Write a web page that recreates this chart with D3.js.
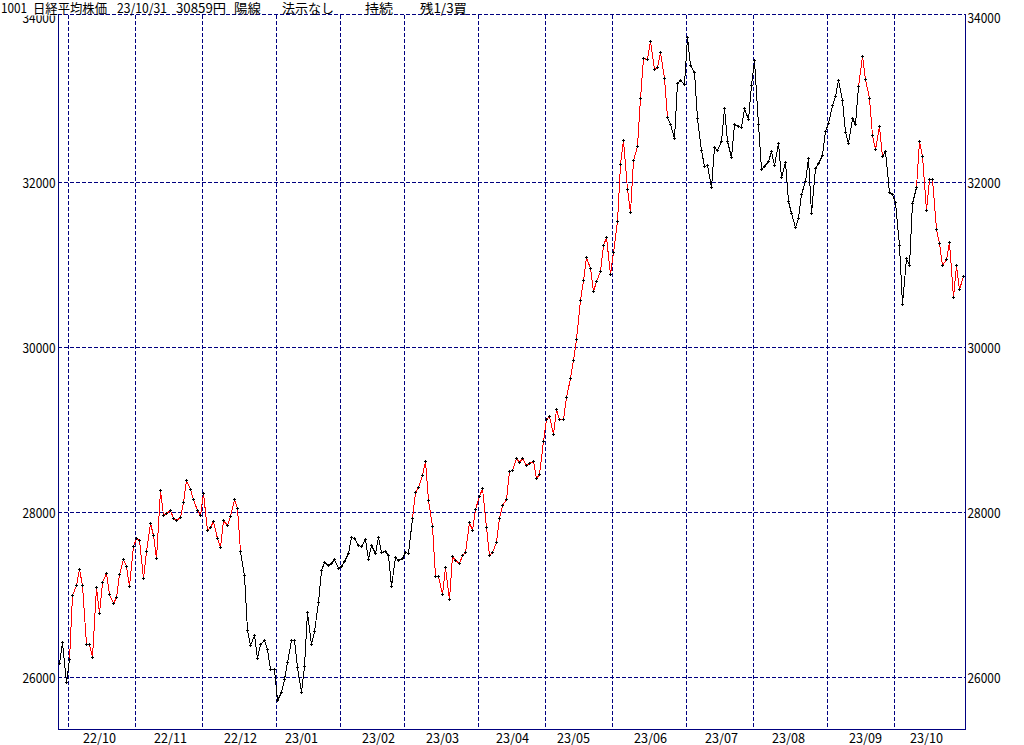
<!DOCTYPE html>
<html><head><meta charset="utf-8">
<script src="https://cdn.jsdelivr.net/npm/d3@7"></script>
<style>
html,body{margin:0;padding:0;background:#fff;}
svg{display:block;}
text{font-family:"MS Gothic","Noto Sans CJK JP",sans-serif;fill:#000;}
</style></head><body>
<svg id="c" width="1024" height="745"></svg>
<script>
// ---- data ----
const dates = [
"2022-09-28","2022-09-29","2022-09-30",
"2022-10-03","2022-10-04","2022-10-05","2022-10-06","2022-10-07","2022-10-11","2022-10-12","2022-10-13","2022-10-14","2022-10-17","2022-10-18","2022-10-19","2022-10-20","2022-10-21","2022-10-24","2022-10-25","2022-10-26","2022-10-27","2022-10-28","2022-10-31",
"2022-11-01","2022-11-02","2022-11-04","2022-11-07","2022-11-08","2022-11-09","2022-11-10","2022-11-11","2022-11-14","2022-11-15","2022-11-16","2022-11-17","2022-11-18","2022-11-21","2022-11-22","2022-11-24","2022-11-25","2022-11-28","2022-11-29","2022-11-30",
"2022-12-01","2022-12-02","2022-12-05","2022-12-06","2022-12-07","2022-12-08","2022-12-09","2022-12-12","2022-12-13","2022-12-14","2022-12-15","2022-12-16","2022-12-19","2022-12-20","2022-12-21","2022-12-22","2022-12-23","2022-12-26","2022-12-27","2022-12-28","2022-12-29","2022-12-30",
"2023-01-04","2023-01-05","2023-01-06","2023-01-10","2023-01-11","2023-01-12","2023-01-13","2023-01-16","2023-01-17","2023-01-18","2023-01-19","2023-01-20","2023-01-23","2023-01-24","2023-01-25","2023-01-26","2023-01-27","2023-01-30","2023-01-31",
"2023-02-01","2023-02-02","2023-02-03","2023-02-06","2023-02-07","2023-02-08","2023-02-09","2023-02-10","2023-02-13","2023-02-14","2023-02-15","2023-02-16","2023-02-17","2023-02-20","2023-02-21","2023-02-22","2023-02-24","2023-02-27","2023-02-28",
"2023-03-01","2023-03-02","2023-03-03","2023-03-06","2023-03-07","2023-03-08","2023-03-09","2023-03-10","2023-03-13","2023-03-14","2023-03-15","2023-03-16","2023-03-17","2023-03-20","2023-03-22","2023-03-23","2023-03-24","2023-03-27","2023-03-28","2023-03-29","2023-03-30","2023-03-31",
"2023-04-03","2023-04-04","2023-04-05","2023-04-06","2023-04-07","2023-04-10","2023-04-11","2023-04-12","2023-04-13","2023-04-14","2023-04-17","2023-04-18","2023-04-19","2023-04-20","2023-04-21","2023-04-24","2023-04-25","2023-04-26","2023-04-27","2023-04-28",
"2023-05-01","2023-05-02","2023-05-08","2023-05-09","2023-05-10","2023-05-11","2023-05-12","2023-05-15","2023-05-16","2023-05-17","2023-05-18","2023-05-19","2023-05-22","2023-05-23","2023-05-24","2023-05-25","2023-05-26","2023-05-29","2023-05-30","2023-05-31",
"2023-06-01","2023-06-02","2023-06-05","2023-06-06","2023-06-07","2023-06-08","2023-06-09","2023-06-12","2023-06-13","2023-06-14","2023-06-15","2023-06-16","2023-06-19","2023-06-20","2023-06-21","2023-06-22","2023-06-23","2023-06-26","2023-06-27","2023-06-28","2023-06-29","2023-06-30",
"2023-07-03","2023-07-04","2023-07-05","2023-07-06","2023-07-07","2023-07-10","2023-07-11","2023-07-12","2023-07-13","2023-07-14","2023-07-18","2023-07-19","2023-07-20","2023-07-21","2023-07-24","2023-07-25","2023-07-26","2023-07-27","2023-07-28","2023-07-31",
"2023-08-01","2023-08-02","2023-08-03","2023-08-04","2023-08-07","2023-08-08","2023-08-09","2023-08-10","2023-08-14","2023-08-15","2023-08-16","2023-08-17","2023-08-18","2023-08-21","2023-08-22","2023-08-23","2023-08-24","2023-08-25","2023-08-28","2023-08-29","2023-08-30","2023-08-31",
"2023-09-01","2023-09-04","2023-09-05","2023-09-06","2023-09-07","2023-09-08","2023-09-11","2023-09-12","2023-09-13","2023-09-14","2023-09-15","2023-09-19","2023-09-20","2023-09-21","2023-09-22","2023-09-25","2023-09-26","2023-09-27","2023-09-28","2023-09-29",
"2023-10-02","2023-10-03","2023-10-04","2023-10-05","2023-10-06","2023-10-10","2023-10-11","2023-10-12","2023-10-13","2023-10-16","2023-10-17","2023-10-18","2023-10-19","2023-10-20","2023-10-23","2023-10-24","2023-10-25","2023-10-26","2023-10-27","2023-10-30","2023-10-31"
];
const closes = [
26174,26422,25937,
26216,26992,27121,27311,27116,26401,26397,26237,27091,26776,27156,27257,27007,26891,26975,27250,27432,27345,27105,27587,
27679,27663,27200,27528,27872,27716,27446,28264,27963,27990,28028,27931,27900,27945,28116,28383,28283,28163,28028,27969,
28226,27778,27820,27886,27686,27574,27901,27842,27955,28156,28052,27527,27238,26568,26388,26508,26235,26406,26448,26341,26094,26095,
25717,25821,25974,26176,26446,26450,26120,25822,26139,26791,26405,26554,26906,27299,27395,27363,27383,27433,27327,
27347,27402,27509,27694,27685,27606,27584,27671,27427,27603,27502,27696,27513,27532,27473,27104,27453,27424,27446,
27517,27499,27927,28238,28309,28444,28623,28144,27833,27222,27229,27011,27334,26946,27467,27420,27385,27477,27518,27884,27783,28041,
28188,28287,27813,27473,27518,27634,27923,28083,28157,28493,28515,28659,28607,28658,28564,28594,28620,28416,28458,28856,
29123,29158,28950,29243,29122,29127,29388,29626,29843,30094,30574,30808,31087,30958,30683,30801,30916,31234,31328,30888,
31148,31524,32217,32507,31914,31641,32265,32434,33019,33502,33485,33706,33370,33389,33575,33265,32782,32699,32538,33194,33234,33189,
33753,33423,33339,32773,32388,32190,32204,31944,32419,32391,32494,32896,32491,32304,32701,32683,32668,32891,32759,33172,
33477,32708,32159,32193,32255,32377,32204,32474,32060,32239,31767,31626,31451,31566,31857,32010,32287,31624,32170,32227,32333,32619,
32711,32939,33037,33241,32991,32607,32468,32776,32707,33168,33533,33243,33024,32571,32402,32679,32315,32372,31873,31858,
31760,31238,30527,31075,30995,31747,31937,32495,32316,31659,32040,32042,31431,31259,31000,31062,31270,30602,30992,30697,30859
];
// segments ending on these dates are drawn red (signal "buy" periods)
const redPeriods = [
  ["2022-10-04","2022-12-16"],
  ["2023-03-06","2023-06-23"],
  ["2023-09-15","2023-09-26"],
  ["2023-10-12","2023-10-31"]
];
const yTicks = [26000, 28000, 30000, 32000, 34000];
const monthLabels = ["22/10","22/11","22/12","23/01","23/02","23/03","23/04","23/05","23/06","23/07","23/08","23/09","23/10"];
const titleParts = ["1001","日経平均株価","23/10/31","30859円","陽線","法示なし","持続","残1/3買"];

// ---- drawing ----
const svg = d3.select("#c");
const NAVY = "#000080";
const L = 58, R = 965.2, T = 14.5, B = 729.5;

const x = d3.scaleBand().domain(dates).range([L, R]).paddingInner(0).paddingOuter(0);
const y = d3.scaleLinear().domain([25369.7, 34036.4]).range([B, T]);
const px = d => Math.floor(x(d) + 1.3) + 0.5;
const py = v => Math.floor(y(v)) + 0.5;
const snap = v => Math.round(v - 0.5) + 0.5;

svg.append("rect").attr("width",1024).attr("height",745).attr("fill","#fff");

const grid = svg.append("g").attr("stroke", NAVY).attr("stroke-width",1)
  .attr("stroke-dasharray","4,2").attr("shape-rendering","crispEdges");

// horizontal grid
grid.selectAll("line.h").data(yTicks.filter(t => y(t) > T + 4)).enter().append("line")
  .attr("x1", L).attr("x2", 966).attr("y1", t => snap(y(t))).attr("y2", t => snap(y(t)));
// top edge (dashed)
grid.append("line").attr("x1", L).attr("x2", 966).attr("y1", T).attr("y2", T);

// months
const months = monthLabels.map(lbl => {
  const [yy, mm] = lbl.split("/");
  const pre = "20" + yy + "-" + mm + "-";
  const inMonth = dates.filter(d => d.startsWith(pre));
  const mid = inMonth.find(d => +d.slice(8) >= 16);
  return {lbl, first: inMonth[0], mid};
});
grid.selectAll("line.v").data(months).enter().append("line")
  .attr("x1", m => Math.floor(x(m.first) + 0.3) + 0.5)
  .attr("x2", m => Math.floor(x(m.first) + 0.3) + 0.5)
  .attr("y1", T).attr("y2", B);

// frame (left, bottom, right)
const frame = svg.append("g").attr("stroke", NAVY).attr("stroke-width",1).attr("shape-rendering","crispEdges");
frame.append("line").attr("x1",58.5).attr("x2",58.5).attr("y1",14).attr("y2",730);
frame.append("line").attr("x1",58).attr("x2",966).attr("y1",729.5).attr("y2",729.5);
frame.append("line").attr("x1",965.5).attr("x2",965.5).attr("y1",14).attr("y2",730);

// series
const isRed = d => redPeriods.some(([a,b]) => d >= a && d <= b);
const pts = dates.map((d,i) => ({d, v: closes[i], cx: px(d), cy: py(closes[i])}));
const segs = pts.slice(1).map((p,i) => ({a: pts[i], b: p, red: isRed(p.d)}));
svg.append("g").attr("shape-rendering","crispEdges").selectAll("line").data(segs).enter().append("line")
  .attr("x1", s => s.a.cx).attr("y1", s => s.a.cy)
  .attr("x2", s => s.b.cx).attr("y2", s => s.b.cy)
  .attr("stroke", s => s.red ? "#ff0000" : "#000000").attr("stroke-width",1);

svg.append("g").attr("stroke","#000").attr("stroke-width",1).attr("shape-rendering","crispEdges")
  .selectAll("path").data(pts).enter().append("path")
  .attr("d", p => `M${p.cx-1.5},${p.cy}H${p.cx+1.5}M${p.cx},${p.cy-1.5}V${p.cy+1.5}`);

// y labels
const fs = 13;
svg.append("g").selectAll("text").data(yTicks).enter().append("text")
  .attr("x", 55.5).attr("y", t => y(t) + 5).attr("text-anchor","end")
  .attr("font-size", fs).attr("textLength", 33).attr("lengthAdjust","spacingAndGlyphs")
  .text(t => t);
svg.append("g").selectAll("text").data(yTicks).enter().append("text")
  .attr("x", 967.5).attr("y", t => y(t) + 5)
  .attr("font-size", fs).attr("textLength", 33).attr("lengthAdjust","spacingAndGlyphs")
  .text(t => t);

// x labels
svg.append("g").selectAll("text").data(months).enter().append("text")
  .attr("x", m => px(m.mid)).attr("y", 742.5).attr("text-anchor","middle")
  .attr("font-size", fs).attr("textLength", 33).attr("lengthAdjust","spacingAndGlyphs")
  .text(m => m.lbl);

// title band (covers top of left 34000 label)
svg.append("rect").attr("x",0).attr("y",0).attr("width",57).attr("height",15.5).attr("fill","#fff");
const titlePos = [[1,26],[33,74],[117,50],[176,50],[234,27],[282,52],[365,28],[420,47]];
svg.append("g").selectAll("text").data(titleParts).enter().append("text")
  .attr("x", (t,i) => titlePos[i][0]).attr("y", 12.5)
  .attr("font-size", 13).attr("textLength", (t,i) => titlePos[i][1]).attr("lengthAdjust","spacingAndGlyphs")
  .text(t => t);
</script>
</body></html>
